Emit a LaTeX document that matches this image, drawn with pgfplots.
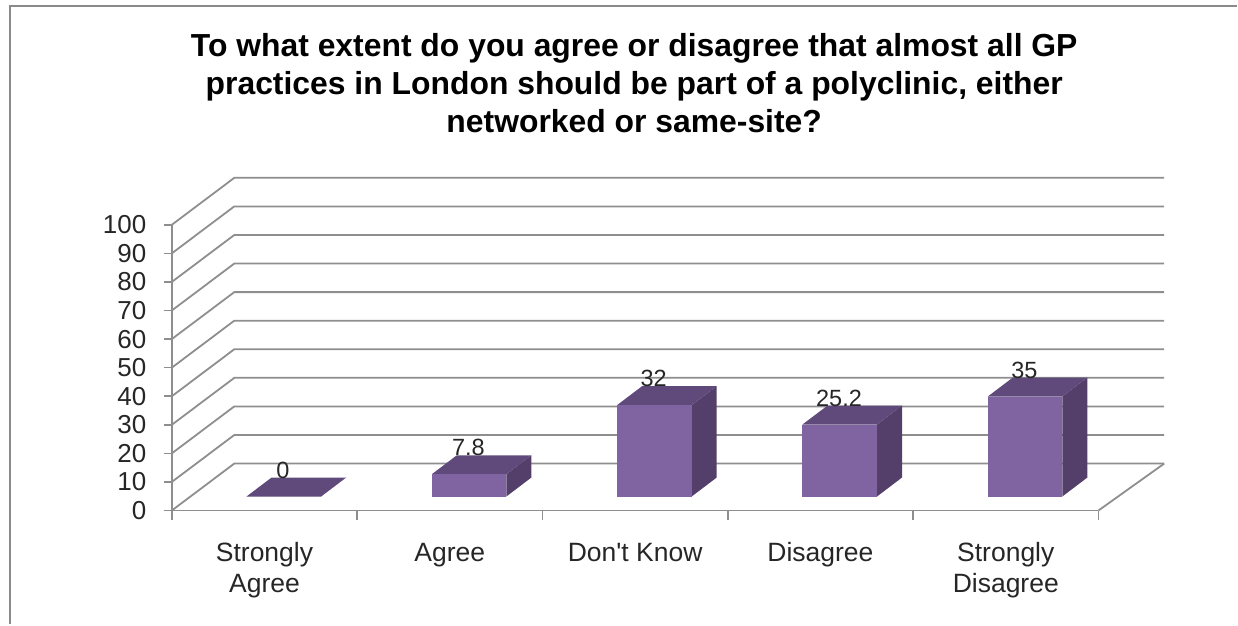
\documentclass[border=0pt]{standalone}
\usepackage{pgfplots}
\usepackage{pgfplotstable}
\usepackage{fontspec}
\setmainfont{Liberation Sans}
\pgfplotsset{compat=1.18}
\definecolor{gridc}{HTML}{8E8E8E}
\definecolor{framec}{HTML}{8A8A8A}
\definecolor{frontc}{HTML}{8064A2}
\definecolor{topc}{HTML}{604A7B}
\definecolor{sidec}{HTML}{533F69}
\pgfplotstableread{
idx value
0 0
1 7.8
2 32
3 25.2
4 35
}\responses
% one 3-D column: #1 category index, #2 value
\newcommand{\column}[2]{%
  \addplot[fill=sidec,draw=none] coordinates {({#1+0.805},4.9) ({#1+0.94},11.54) ({#1+0.94},{#2+11.54}) ({#1+0.805},{#2+4.9})} --cycle;
  \addplot[fill=topc,draw=none] coordinates {({#1+0.403},{#2+4.9}) ({#1+0.805},{#2+4.9}) ({#1+0.94},{#2+11.54}) ({#1+0.538},{#2+11.54})} --cycle;
  \addplot[fill=frontc,draw=none] coordinates {({#1+0.403},4.9) ({#1+0.805},4.9) ({#1+0.805},{#2+4.9}) ({#1+0.403},{#2+4.9})} --cycle;
}
\begin{document}
\begin{tikzpicture}
\begin{axis}[
  scale only axis,
  width=927.5pt,height=286pt,
  xmin=0,xmax=5,ymin=0,ymax=100,
  clip=false,
  axis x line=bottom,axis y line=left,
  axis line style={draw=gridc,line width=1.8pt,-},
  xtick={0.5,1.5,2.5,3.5,4.5},
  xticklabels={{\strut Strongly\\Agree\strut},{\strut Agree},{\strut Don\textquotesingle t Know},{\strut Disagree},{\strut Strongly\\Disagree\strut}},
  minor xtick={0,1,2,3,4,5},
  ytick={0,10,...,100},
  major x tick style={draw=none},
  minor x tick style={draw=gridc,line width=1.5pt},
  y tick style={draw=gridc,line width=1.5pt},
  tick align=outside,
  major tick length=8pt,minor tick length=9pt,
  /pgf/number format/assume math mode=true,
  xticklabel style={font=\fontsize{26.5}{31}\selectfont,align=center,anchor=north,inner sep=0pt,yshift=-21pt,text=black!85},
  yticklabel style={font=\fontsize{26}{26}\selectfont,xshift=-14pt,text=black!85},
]
% frame and page extent
\addplot[draw=framec,line width=2.4pt] coordinates {(-0.8733,-39.86) (-0.8733,176.57) (5.7466,176.57)};
\path (axis cs:-0.9272,-39.86) rectangle (axis cs:5.7466,178.67);
% walls and floor
\pgfplotsinvokeforeach{0,10,...,100}{
  \addplot[draw=gridc,line width=1.8pt] coordinates {(0,#1) (0.337,{#1+16.43}) (5.355,{#1+16.43})};
}
\addplot[draw=gridc,line width=1.8pt] coordinates {(5,0) (5.355,16.43)};
% data labels, overlapped by the columns
\addplot[draw=none,mark=none,point meta=explicit symbolic,
  nodes near coords={\pgfplotspointmeta},
  nodes near coords align={center},
  every node near coord/.style={font=\fontsize{23.5}{24}\selectfont,text=black!85,anchor=center,yshift=26.5pt}]
  table[x expr=\thisrow{idx}+0.6,y expr=\thisrow{value}+4.9,meta=value] {\responses};
% columns
\column{0}{0}
\column{1}{7.8}
\column{2}{32}
\column{3}{25.2}
\column{4}{35}
\node[font=\bfseries\fontsize{31.9}{38}\selectfont,align=center,anchor=center] at (axis cs:2.495,149.7)
 {To what extent do you agree or disagree that almost all GP\\practices in London should be part of a polyclinic, either\\networked or same-site?};
\end{axis}
\end{tikzpicture}
\end{document}
